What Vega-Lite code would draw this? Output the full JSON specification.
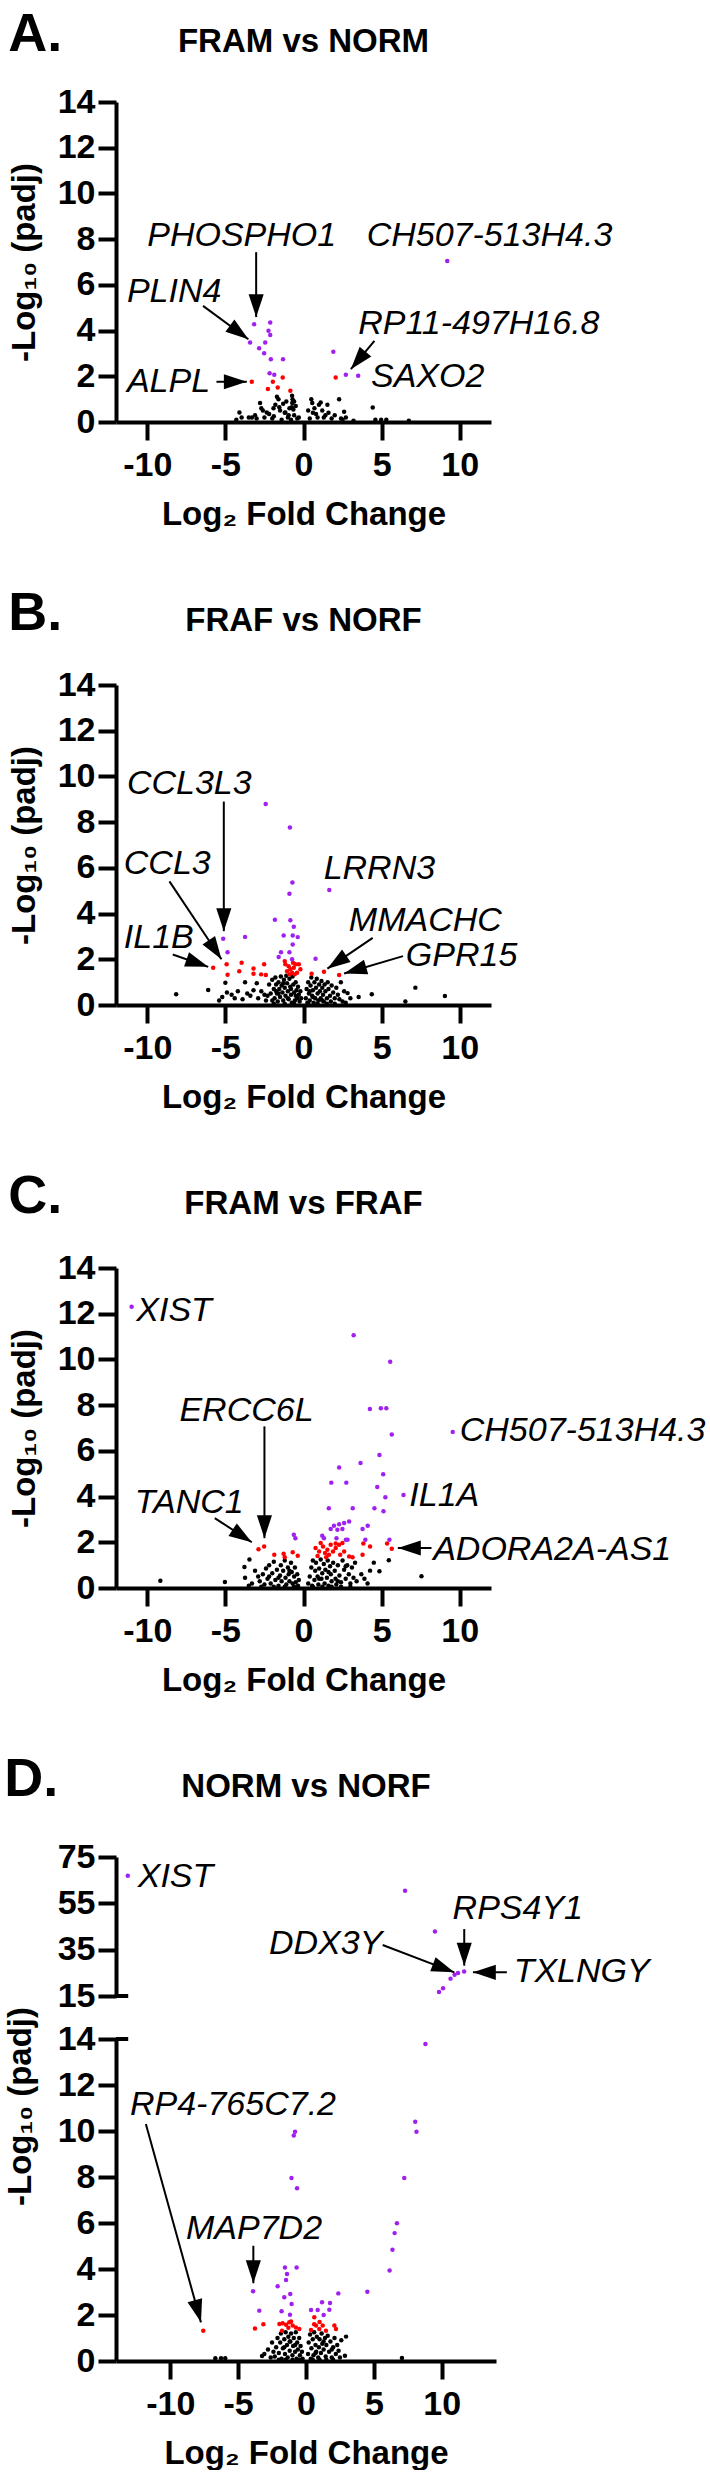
{
"$schema":"https://vega.github.io/schema/vega-lite/v6.json",
"padding":{"top":8,"left":4,"right":0,"bottom":0},
"background":"white",
"spacing":56,
"config":{
 "view":{"stroke":null},
 "font":"Liberation Sans",
 "axis":{"domainColor":"#000","domainWidth":4,"tickColor":"#000","tickWidth":4,"tickSize":18,"grid":false,"labelFont":"Liberation Sans","labelFontSize":34,"labelFontWeight":"bold","labelColor":"#000","labelOverlap":false,"labelBound":false,"titleFont":"Liberation Sans","titleFontSize":33,"titleFontWeight":"bold","titleColor":"#000"},
 "axisX":{"labelPadding":8,"titlePadding":16,"labelFlush":false},
 "axisY":{"labelPadding":3,"titlePadding":16},
 "title":{"font":"Liberation Sans","fontWeight":"bold","color":"#000"}
},
"datasets":{
"A":[
{"x":-4.1,"y":0.42,"c":"n"},{"x":-3.96,"y":0.2,"c":"n"},{"x":-4.3,"y":0.1,"c":"n"},{"x":-3.5,"y":0.2,"c":"n"},{"x":-3.3,"y":0.2,"c":"n"},{"x":-3.0,"y":0.15,"c":"n"},{"x":-2.78,"y":0.83,"c":"n"},{"x":-2.7,"y":0.6,"c":"n"},{"x":-2.35,"y":0.42,"c":"n"},{"x":-2.5,"y":0.2,"c":"n"},{"x":-2.2,"y":0.35,"c":"n"},{"x":-1.92,"y":0.6,"c":"n"},{"x":-1.7,"y":1.1,"c":"n"},{"x":-1.6,"y":1.0,"c":"n"},{"x":-1.8,"y":0.75,"c":"n"},{"x":-1.5,"y":0.5,"c":"n"},{"x":-1.3,"y":0.8,"c":"n"},{"x":-1.2,"y":0.4,"c":"n"},{"x":-1.16,"y":0.42,"c":"n"},{"x":-1.0,"y":0.2,"c":"n"},{"x":-0.9,"y":0.6,"c":"n"},{"x":-0.73,"y":1.15,"c":"n"},{"x":-0.7,"y":1.0,"c":"n"},{"x":-0.72,"y":0.83,"c":"n"},{"x":-0.65,"y":0.55,"c":"n"},{"x":-0.6,"y":0.3,"c":"n"},{"x":-0.4,"y":0.15,"c":"n"},{"x":-0.3,"y":0.2,"c":"n"},{"x":-0.5,"y":0.7,"c":"n"},{"x":-2.0,"y":0.15,"c":"n"},{"x":-1.4,"y":0.1,"c":"n"},{"x":-0.8,"y":0.1,"c":"n"},{"x":-2.6,"y":0.5,"c":"n"},{"x":-3.1,"y":0.3,"c":"n"},{"x":-1.9,"y":0.25,"c":"n"},{"x":-1.55,"y":0.65,"c":"n"},{"x":-1.1,"y":0.9,"c":"n"},{"x":-0.95,"y":0.3,"c":"n"},{"x":-0.6,"y":0.9,"c":"n"},{"x":-0.75,"y":0.65,"c":"n"},{"x":0.4,"y":0.15,"c":"n"},{"x":0.56,"y":0.83,"c":"n"},{"x":0.7,"y":0.6,"c":"n"},{"x":0.8,"y":0.35,"c":"n"},{"x":0.99,"y":0.75,"c":"n"},{"x":1.1,"y":0.85,"c":"n"},{"x":1.2,"y":0.5,"c":"n"},{"x":1.3,"y":0.2,"c":"n"},{"x":1.53,"y":0.75,"c":"n"},{"x":1.6,"y":0.4,"c":"n"},{"x":1.8,"y":0.15,"c":"n"},{"x":2.0,"y":0.3,"c":"n"},{"x":2.28,"y":1.0,"c":"n"},{"x":2.5,"y":0.1,"c":"n"},{"x":2.71,"y":0.2,"c":"n"},{"x":2.6,"y":0.45,"c":"n"},{"x":2.4,"y":0.15,"c":"n"},{"x":0.6,"y":0.4,"c":"n"},{"x":0.9,"y":0.2,"c":"n"},{"x":1.4,"y":0.3,"c":"n"},{"x":4.43,"y":0.63,"c":"n"},{"x":4.6,"y":0.1,"c":"n"},{"x":4.97,"y":0.1,"c":"n"},{"x":5.3,"y":0.1,"c":"n"},{"x":6.74,"y":0.05,"c":"n"},{"x":3.2,"y":0.05,"c":"n"},{"x":0.3,"y":0.5,"c":"n"},{"x":0.5,"y":1.0,"c":"n"},
{"x":-3.31,"y":1.76,"c":"r"},{"x":-1.96,"y":1.76,"c":"r"},{"x":-2.28,"y":1.44,"c":"r"},{"x":-1.65,"y":1.51,"c":"r"},{"x":-1.33,"y":1.95,"c":"r"},{"x":-0.84,"y":1.37,"c":"r"},{"x":2.06,"y":1.95,"c":"r"},
{"x":-3.16,"y":4.28,"c":"p"},{"x":-2.13,"y":4.35,"c":"p"},{"x":-2.24,"y":3.99,"c":"p"},{"x":-2.13,"y":3.81,"c":"p"},{"x":-3.42,"y":3.48,"c":"p"},{"x":-2.45,"y":3.48,"c":"p"},{"x":-2.84,"y":3.23,"c":"p"},{"x":-2.52,"y":3.01,"c":"p"},{"x":-2.09,"y":2.75,"c":"p"},{"x":-1.31,"y":2.75,"c":"p"},{"x":-2.17,"y":2.13,"c":"p"},{"x":-1.87,"y":2.07,"c":"p"},{"x":1.91,"y":3.07,"c":"p"},{"x":2.71,"y":2.07,"c":"p"},{"x":3.5,"y":2.02,"c":"p"},{"x":9.2,"y":7.04,"c":"p"}
],
"Aa":[{"x2":-3.03,"y2":7.43,"x":-3.03,"y":4.59},{"x2":-6.43,"y2":5.08,"x":-3.53,"y":3.62},{"x2":4.54,"y2":3.55,"x":3.03,"y":2.31},{"x2":-5.57,"y2":1.76,"x":-3.63,"y":1.76}],
"Al":[{"t":"PHOSPHO1","x":-10.0,"y":7.69},{"t":"CH507-513H4.3","x":4.04,"y":7.69},{"t":"PLIN4","x":-11.3,"y":5.24},{"t":"RP11-497H16.8","x":3.5,"y":3.84},{"t":"SAXO2","x":4.32,"y":1.53},{"t":"ALPL","x":-11.3,"y":1.31}],
"B":[
{"x":-8.15,"y":0.47,"c":"n"},{"x":-6.1,"y":0.66,"c":"n"},{"x":-5.4,"y":0.2,"c":"n"},{"x":-5.2,"y":0.35,"c":"n"},{"x":-5.0,"y":0.97,"c":"n"},{"x":-4.9,"y":0.55,"c":"n"},{"x":-4.6,"y":0.45,"c":"n"},{"x":-4.4,"y":0.3,"c":"n"},{"x":-4.2,"y":0.6,"c":"n"},{"x":-3.74,"y":1.0,"c":"n"},{"x":-3.9,"y":0.25,"c":"n"},{"x":-3.6,"y":0.5,"c":"n"},{"x":-3.4,"y":0.4,"c":"n"},{"x":-3.2,"y":0.65,"c":"n"},{"x":-2.99,"y":0.95,"c":"n"},{"x":-2.9,"y":0.3,"c":"n"},{"x":-2.7,"y":0.6,"c":"n"},{"x":-2.5,"y":0.45,"c":"n"},{"x":-2.4,"y":0.2,"c":"n"},{"x":2.39,"y":1.0,"c":"n"},{"x":2.6,"y":0.6,"c":"n"},{"x":2.82,"y":0.52,"c":"n"},{"x":3.0,"y":0.3,"c":"n"},{"x":3.53,"y":0.35,"c":"n"},{"x":4.37,"y":0.47,"c":"n"},{"x":6.52,"y":0.15,"c":"n"},{"x":7.16,"y":0.76,"c":"n"},{"x":9.05,"y":0.39,"c":"n"},{"x":2.3,"y":0.25,"c":"n"},{"x":2.5,"y":0.15,"c":"n"},{"x":2.7,"y":0.1,"c":"n"},
{"x":-2.2,"y":0.9,"c":"n"},{"x":-2.1,"y":0.5,"c":"n"},{"x":-2.0,"y":1.1,"c":"n"},{"x":-2.0,"y":0.2,"c":"n"},{"x":-1.9,"y":0.7,"c":"n"},{"x":-1.85,"y":0.3,"c":"n"},{"x":-1.8,"y":1.2,"c":"n"},{"x":-1.75,"y":0.9,"c":"n"},{"x":-1.7,"y":0.5,"c":"n"},{"x":-1.65,"y":0.15,"c":"n"},{"x":-1.6,"y":1.0,"c":"n"},{"x":-1.55,"y":0.7,"c":"n"},{"x":-1.5,"y":0.35,"c":"n"},{"x":-1.45,"y":1.25,"c":"n"},{"x":-1.4,"y":0.85,"c":"n"},{"x":-1.35,"y":0.55,"c":"n"},{"x":-1.3,"y":0.2,"c":"n"},{"x":-1.25,"y":1.1,"c":"n"},{"x":-1.2,"y":0.75,"c":"n"},{"x":-1.15,"y":0.4,"c":"n"},{"x":-1.1,"y":1.28,"c":"n"},{"x":-1.05,"y":0.95,"c":"n"},{"x":-1.0,"y":0.6,"c":"n"},{"x":-0.95,"y":0.25,"c":"n"},{"x":-0.9,"y":1.15,"c":"n"},{"x":-0.85,"y":0.8,"c":"n"},{"x":-0.8,"y":0.45,"c":"n"},{"x":-0.75,"y":0.1,"c":"n"},{"x":-0.7,"y":1.25,"c":"n"},{"x":-0.65,"y":0.9,"c":"n"},{"x":-0.6,"y":0.55,"c":"n"},{"x":-0.55,"y":0.2,"c":"n"},{"x":-0.5,"y":1.0,"c":"n"},{"x":-0.45,"y":0.65,"c":"n"},{"x":-0.4,"y":0.3,"c":"n"},{"x":-0.35,"y":0.8,"c":"n"},{"x":-0.3,"y":0.45,"c":"n"},{"x":-0.25,"y":0.15,"c":"n"},{"x":-0.2,"y":0.6,"c":"n"},{"x":-0.15,"y":0.3,"c":"n"},{"x":-1.9,"y":0.05,"c":"n"},{"x":-1.2,"y":0.05,"c":"n"},{"x":-0.6,"y":0.05,"c":"n"},{"x":-1.6,"y":0.5,"c":"n"},{"x":-1.0,"y":0.3,"c":"n"},{"x":-0.8,"y":0.7,"c":"n"},{"x":-1.3,"y":0.95,"c":"n"},{"x":-0.5,"y":0.4,"c":"n"},{"x":-1.75,"y":0.6,"c":"n"},{"x":-2.3,"y":0.4,"c":"n"},
{"x":0.15,"y":0.3,"c":"n"},{"x":0.2,"y":0.7,"c":"n"},{"x":0.25,"y":0.1,"c":"n"},{"x":0.3,"y":1.0,"c":"n"},{"x":0.35,"y":0.5,"c":"n"},{"x":0.4,"y":0.2,"c":"n"},{"x":0.45,"y":0.85,"c":"n"},{"x":0.5,"y":1.2,"c":"n"},{"x":0.55,"y":0.4,"c":"n"},{"x":0.6,"y":0.65,"c":"n"},{"x":0.65,"y":0.1,"c":"n"},{"x":0.7,"y":1.0,"c":"n"},{"x":0.75,"y":0.3,"c":"n"},{"x":0.8,"y":0.75,"c":"n"},{"x":0.85,"y":1.15,"c":"n"},{"x":0.9,"y":0.5,"c":"n"},{"x":0.95,"y":0.2,"c":"n"},{"x":1.0,"y":0.9,"c":"n"},{"x":1.05,"y":0.6,"c":"n"},{"x":1.1,"y":0.3,"c":"n"},{"x":1.15,"y":1.05,"c":"n"},{"x":1.2,"y":0.75,"c":"n"},{"x":1.25,"y":0.45,"c":"n"},{"x":1.3,"y":0.15,"c":"n"},{"x":1.35,"y":0.9,"c":"n"},{"x":1.4,"y":0.6,"c":"n"},{"x":1.5,"y":0.3,"c":"n"},{"x":1.55,"y":1.0,"c":"n"},{"x":1.6,"y":0.7,"c":"n"},{"x":1.7,"y":0.4,"c":"n"},{"x":1.75,"y":0.15,"c":"n"},{"x":1.8,"y":0.85,"c":"n"},{"x":1.9,"y":0.55,"c":"n"},{"x":2.0,"y":0.3,"c":"n"},{"x":2.1,"y":0.75,"c":"n"},{"x":2.2,"y":0.45,"c":"n"},{"x":0.3,"y":0.05,"c":"n"},{"x":0.9,"y":0.05,"c":"n"},{"x":1.5,"y":0.05,"c":"n"},{"x":2.0,"y":0.05,"c":"n"},{"x":0.6,"y":0.35,"c":"n"},{"x":1.2,"y":0.2,"c":"n"},{"x":0.4,"y":0.6,"c":"n"},
{"x":-5.78,"y":1.63,"c":"r"},{"x":-4.92,"y":1.78,"c":"r"},{"x":-4.86,"y":1.32,"c":"r"},{"x":-3.96,"y":1.85,"c":"r"},{"x":-4.11,"y":1.48,"c":"r"},{"x":-3.2,"y":1.6,"c":"r"},{"x":-3.2,"y":1.37,"c":"r"},{"x":-2.52,"y":1.78,"c":"r"},{"x":-2.71,"y":1.34,"c":"r"},{"x":-2.41,"y":1.31,"c":"r"},{"x":-1.2,"y":1.92,"c":"r"},{"x":-1.16,"y":1.78,"c":"r"},{"x":-0.95,"y":1.7,"c":"r"},{"x":-0.84,"y":1.56,"c":"r"},{"x":-0.73,"y":1.41,"c":"r"},{"x":-0.62,"y":1.63,"c":"r"},{"x":-0.52,"y":1.78,"c":"r"},{"x":-0.3,"y":1.78,"c":"r"},{"x":-0.2,"y":1.56,"c":"r"},{"x":-1.05,"y":1.48,"c":"r"},{"x":-0.9,"y":1.34,"c":"r"},{"x":-0.56,"y":1.34,"c":"r"},{"x":-0.41,"y":1.41,"c":"r"},{"x":-0.67,"y":1.85,"c":"r"},{"x":0.52,"y":1.37,"c":"r"},{"x":1.31,"y":1.45,"c":"r"},{"x":2.28,"y":1.31,"c":"r"},
{"x":-2.42,"y":8.79,"c":"p"},{"x":-0.87,"y":7.77,"c":"p"},{"x":-0.71,"y":5.36,"c":"p"},{"x":-0.9,"y":4.87,"c":"p"},{"x":1.65,"y":5.03,"c":"p"},{"x":-1.83,"y":3.73,"c":"p"},{"x":-0.84,"y":3.71,"c":"p"},{"x":-0.62,"y":3.42,"c":"p"},{"x":-1.27,"y":3.04,"c":"p"},{"x":-0.69,"y":3.04,"c":"p"},{"x":-0.37,"y":2.97,"c":"p"},{"x":-3.74,"y":2.98,"c":"p"},{"x":-5.14,"y":2.9,"c":"p"},{"x":-0.69,"y":2.65,"c":"p"},{"x":-4.86,"y":2.31,"c":"p"},{"x":-1.44,"y":2.31,"c":"p"},{"x":-0.9,"y":2.31,"c":"p"},{"x":-1.59,"y":2.1,"c":"p"},{"x":-0.73,"y":2.0,"c":"p"},{"x":0.77,"y":2.02,"c":"p"}
],
"Ba":[{"x2":-5.1,"y2":8.9,"x":-5.1,"y":3.23},{"x2":-8.58,"y2":5.41,"x":-5.25,"y":2.0},{"x2":-8.37,"y2":2.21,"x":-6.1,"y":1.67},{"x2":4.43,"y2":2.94,"x":1.53,"y":1.59},{"x2":6.37,"y2":2.14,"x":2.6,"y":1.38}],
"Bl":[{"t":"CCL3L3","x":-11.3,"y":9.21},{"t":"CCL3","x":-11.5,"y":5.72},{"t":"IL1B","x":-11.5,"y":2.49},{"t":"LRRN3","x":1.29,"y":5.5},{"t":"MMACHC","x":2.9,"y":3.23},{"t":"GPR15","x":6.55,"y":1.7}],
"C":[
{"x":-9.16,"y":0.32,"c":"n"},{"x":-5.03,"y":0.26,"c":"n"},{"x":7.55,"y":0.51,"c":"n"},{"x":-3.46,"y":1.25,"c":"n"},{"x":-3.78,"y":0.92,"c":"n"},{"x":-3.74,"y":0.45,"c":"n"},{"x":5.46,"y":1.21,"c":"n"},{"x":4.86,"y":0.73,"c":"n"},{"x":4.26,"y":0.76,"c":"n"},{"x":4.5,"y":1.11,"c":"n"},{"x":3.9,"y":0.4,"c":"n"},{"x":4.1,"y":0.2,"c":"n"},{"x":3.7,"y":0.6,"c":"n"},{"x":-3.3,"y":0.2,"c":"n"},{"x":-3.5,"y":0.1,"c":"n"},{"x":-2.9,"y":0.5,"c":"n"},{"x":-3.1,"y":0.75,"c":"n"},
{"x":-2.8,"y":0.3,"c":"n"},{"x":-2.6,"y":0.6,"c":"n"},{"x":-2.5,"y":0.15,"c":"n"},{"x":-2.4,"y":0.85,"c":"n"},{"x":-2.3,"y":0.4,"c":"n"},{"x":-2.2,"y":1.0,"c":"n"},{"x":-2.1,"y":0.2,"c":"n"},{"x":-2.0,"y":0.65,"c":"n"},{"x":-1.9,"y":1.15,"c":"n"},{"x":-1.8,"y":0.35,"c":"n"},{"x":-1.7,"y":0.8,"c":"n"},{"x":-1.6,"y":0.1,"c":"n"},{"x":-1.5,"y":0.55,"c":"n"},{"x":-1.45,"y":1.0,"c":"n"},{"x":-1.4,"y":0.3,"c":"n"},{"x":-1.3,"y":0.75,"c":"n"},{"x":-1.2,"y":1.2,"c":"n"},{"x":-1.15,"y":0.45,"c":"n"},{"x":-1.1,"y":0.15,"c":"n"},{"x":-1.0,"y":0.9,"c":"n"},{"x":-0.95,"y":0.6,"c":"n"},{"x":-0.9,"y":0.3,"c":"n"},{"x":-0.8,"y":1.1,"c":"n"},{"x":-0.75,"y":0.7,"c":"n"},{"x":-0.7,"y":0.2,"c":"n"},{"x":-0.6,"y":0.5,"c":"n"},{"x":-0.55,"y":0.9,"c":"n"},{"x":-0.5,"y":0.25,"c":"n"},{"x":-0.4,"y":0.6,"c":"n"},{"x":-0.35,"y":0.1,"c":"n"},{"x":-0.3,"y":0.35,"c":"n"},{"x":-2.7,"y":0.05,"c":"n"},{"x":-1.9,"y":0.05,"c":"n"},{"x":-1.2,"y":0.05,"c":"n"},{"x":-0.6,"y":0.05,"c":"n"},{"x":-1.6,"y":0.45,"c":"n"},{"x":-2.2,"y":0.5,"c":"n"},{"x":-0.9,"y":0.75,"c":"n"},
{"x":0.3,"y":0.2,"c":"n"},{"x":0.4,"y":0.5,"c":"n"},{"x":0.5,"y":0.9,"c":"n"},{"x":0.55,"y":0.1,"c":"n"},{"x":0.6,"y":1.2,"c":"n"},{"x":0.7,"y":0.35,"c":"n"},{"x":0.75,"y":0.75,"c":"n"},{"x":0.8,"y":1.1,"c":"n"},{"x":0.9,"y":0.5,"c":"n"},{"x":0.95,"y":0.15,"c":"n"},{"x":1.0,"y":0.85,"c":"n"},{"x":1.1,"y":1.25,"c":"n"},{"x":1.15,"y":0.4,"c":"n"},{"x":1.2,"y":0.65,"c":"n"},{"x":1.3,"y":1.05,"c":"n"},{"x":1.35,"y":0.2,"c":"n"},{"x":1.4,"y":0.8,"c":"n"},{"x":1.5,"y":0.45,"c":"n"},{"x":1.55,"y":1.2,"c":"n"},{"x":1.6,"y":0.1,"c":"n"},{"x":1.7,"y":0.95,"c":"n"},{"x":1.75,"y":0.6,"c":"n"},{"x":1.8,"y":0.3,"c":"n"},{"x":1.9,"y":1.1,"c":"n"},{"x":2.0,"y":0.75,"c":"n"},{"x":2.05,"y":0.4,"c":"n"},{"x":2.1,"y":0.15,"c":"n"},{"x":2.2,"y":1.0,"c":"n"},{"x":2.3,"y":0.55,"c":"n"},{"x":2.4,"y":0.25,"c":"n"},{"x":2.5,"y":1.2,"c":"n"},{"x":2.6,"y":0.8,"c":"n"},{"x":2.7,"y":0.4,"c":"n"},{"x":2.8,"y":1.0,"c":"n"},{"x":2.9,"y":0.6,"c":"n"},{"x":3.0,"y":0.2,"c":"n"},{"x":3.1,"y":0.9,"c":"n"},{"x":3.2,"y":0.45,"c":"n"},{"x":3.3,"y":1.1,"c":"n"},{"x":3.4,"y":0.3,"c":"n"},{"x":0.6,"y":0.05,"c":"n"},{"x":1.2,"y":0.05,"c":"n"},{"x":1.8,"y":0.05,"c":"n"},{"x":2.4,"y":0.05,"c":"n"},{"x":3.0,"y":0.05,"c":"n"},{"x":1.0,"y":0.4,"c":"n"},{"x":1.6,"y":0.7,"c":"n"},{"x":2.2,"y":0.3,"c":"n"},{"x":2.7,"y":0.95,"c":"n"},
{"x":-2.88,"y":1.7,"c":"r"},{"x":-2.52,"y":1.82,"c":"r"},{"x":-1.87,"y":1.45,"c":"r"},{"x":-1.27,"y":1.5,"c":"r"},{"x":-1.2,"y":1.35,"c":"r"},{"x":-0.69,"y":1.56,"c":"r"},{"x":-0.37,"y":1.41,"c":"r"},{"x":0.77,"y":1.75,"c":"r"},{"x":1.0,"y":1.6,"c":"r"},{"x":1.1,"y":1.97,"c":"r"},{"x":1.25,"y":1.82,"c":"r"},{"x":1.38,"y":1.53,"c":"r"},{"x":1.53,"y":1.67,"c":"r"},{"x":1.74,"y":1.89,"c":"r"},{"x":1.89,"y":1.6,"c":"r"},{"x":2.06,"y":1.75,"c":"r"},{"x":2.28,"y":1.89,"c":"r"},{"x":2.49,"y":1.97,"c":"r"},{"x":2.6,"y":1.6,"c":"r"},{"x":1.63,"y":1.45,"c":"r"},{"x":2.92,"y":1.38,"c":"r"},{"x":3.14,"y":1.35,"c":"r"},{"x":2.06,"y":1.95,"c":"r"},{"x":0.9,"y":1.4,"c":"r"},{"x":1.45,"y":1.35,"c":"r"},{"x":2.35,"y":1.45,"c":"r"},{"x":3.78,"y":1.45,"c":"r"},{"x":3.83,"y":1.95,"c":"r"},{"x":4.26,"y":1.82,"c":"r"},{"x":5.35,"y":1.95,"c":"r"},{"x":5.65,"y":1.72,"c":"r"},
{"x":-11.0,"y":12.3,"c":"p"},{"x":3.21,"y":11.06,"c":"p"},{"x":5.55,"y":9.9,"c":"p"},{"x":4.25,"y":7.83,"c":"p"},{"x":4.95,"y":7.86,"c":"p"},{"x":5.3,"y":7.86,"c":"p"},{"x":5.65,"y":6.72,"c":"p"},{"x":9.55,"y":6.83,"c":"p"},{"x":3.65,"y":5.47,"c":"p"},{"x":4.86,"y":5.82,"c":"p"},{"x":2.28,"y":5.27,"c":"p"},{"x":1.78,"y":4.61,"c":"p"},{"x":2.74,"y":4.61,"c":"p"},{"x":5.1,"y":4.98,"c":"p"},{"x":4.72,"y":4.42,"c":"p"},{"x":5.24,"y":3.97,"c":"p"},{"x":6.4,"y":4.07,"c":"p"},{"x":1.62,"y":3.49,"c":"p"},{"x":3.15,"y":3.49,"c":"p"},{"x":4.54,"y":3.49,"c":"p"},{"x":5.12,"y":3.36,"c":"p"},{"x":1.74,"y":2.58,"c":"p"},{"x":1.95,"y":2.72,"c":"p"},{"x":2.28,"y":2.79,"c":"p"},{"x":2.6,"y":2.84,"c":"p"},{"x":2.92,"y":2.91,"c":"p"},{"x":2.17,"y":2.55,"c":"p"},{"x":2.49,"y":2.58,"c":"p"},{"x":3.78,"y":2.58,"c":"p"},{"x":4.11,"y":2.72,"c":"p"},{"x":-0.62,"y":2.33,"c":"p"},{"x":-0.52,"y":2.18,"c":"p"},{"x":1.2,"y":2.29,"c":"p"},{"x":1.31,"y":2.18,"c":"p"},{"x":2.11,"y":2.18,"c":"p"},{"x":2.71,"y":2.11,"c":"p"},{"x":2.82,"y":2.11,"c":"p"},{"x":3.96,"y":2.11,"c":"p"},{"x":5.5,"y":2.11,"c":"p"}
],
"Ca":[{"x2":-2.5,"y2":7.07,"x":-2.5,"y":2.18},{"x2":-5.68,"y2":3.06,"x":-3.31,"y":2.0},{"x2":8.19,"y2":1.75,"x":6.04,"y":1.75}],
"Cl":[{"t":"XIST","x":-10.7,"y":11.7},{"t":"ERCC6L","x":-7.94,"y":7.29},{"t":"TANC1","x":-10.8,"y":3.28},{"t":"CH507-513H4.3","x":10.0,"y":6.42},{"t":"IL1A","x":6.77,"y":3.6},{"t":"ADORA2A-AS1","x":8.3,"y":1.21}],
"Du":[{"x":-13.13,"y":66.9,"c":"p"},{"x":7.3,"y":60.4,"c":"p"},{"x":9.5,"y":42.8,"c":"p"},{"x":11.65,"y":25.6,"c":"p"},{"x":11.2,"y":24.9,"c":"p"},{"x":10.95,"y":24.2,"c":"p"},{"x":10.65,"y":22.5,"c":"p"},{"x":10.1,"y":18.3,"c":"p"},{"x":9.8,"y":16.7,"c":"p"}],
"Dua":[{"x2":11.66,"y2":43.9,"x":11.66,"y":28.1},{"x2":5.65,"y2":37.0,"x":10.93,"y":25.2},{"x2":14.8,"y2":25.2,"x":12.3,"y":25.2}],
"Dul":[{"t":"XIST","x":-12.4,"y":62.2},{"t":"RPS4Y1","x":10.8,"y":48.2},{"t":"DDX3Y","x":-2.73,"y":33.1},{"t":"TXLNGY","x":15.3,"y":20.9}],
"Dl":[
{"x":-6.68,"y":0.12,"c":"n"},{"x":-6.26,"y":0.12,"c":"n"},{"x":-5.95,"y":0.12,"c":"n"},{"x":7.07,"y":0.13,"c":"n"},{"x":2.87,"y":0.23,"c":"n"},{"x":-3.24,"y":0.22,"c":"n"},{"x":-3.07,"y":0.3,"c":"n"},{"x":2.95,"y":1.06,"c":"n"},{"x":-2.8,"y":0.5,"c":"n"},{"x":-2.5,"y":0.8,"c":"n"},{"x":2.6,"y":0.9,"c":"n"},
{"x":-2.3,"y":0.2,"c":"n"},{"x":-2.2,"y":0.6,"c":"n"},{"x":-2.1,"y":1.0,"c":"n"},{"x":-2.0,"y":0.35,"c":"n"},{"x":-1.9,"y":0.8,"c":"n"},{"x":-1.85,"y":1.2,"c":"n"},{"x":-1.8,"y":0.1,"c":"n"},{"x":-1.7,"y":0.55,"c":"n"},{"x":-1.6,"y":0.95,"c":"n"},{"x":-1.55,"y":0.3,"c":"n"},{"x":-1.5,"y":1.25,"c":"n"},{"x":-1.4,"y":0.7,"c":"n"},{"x":-1.35,"y":0.15,"c":"n"},{"x":-1.3,"y":1.05,"c":"n"},{"x":-1.2,"y":0.45,"c":"n"},{"x":-1.15,"y":0.85,"c":"n"},{"x":-1.1,"y":1.2,"c":"n"},{"x":-1.0,"y":0.25,"c":"n"},{"x":-0.95,"y":0.65,"c":"n"},{"x":-0.9,"y":1.0,"c":"n"},{"x":-0.8,"y":0.4,"c":"n"},{"x":-0.75,"y":1.25,"c":"n"},{"x":-0.7,"y":0.1,"c":"n"},{"x":-0.65,"y":0.8,"c":"n"},{"x":-0.6,"y":0.5,"c":"n"},{"x":-0.5,"y":1.0,"c":"n"},{"x":-0.45,"y":0.25,"c":"n"},{"x":-0.4,"y":0.65,"c":"n"},{"x":-0.3,"y":0.4,"c":"n"},{"x":-0.25,"y":0.1,"c":"n"},{"x":-2.0,"y":0.05,"c":"n"},{"x":-1.5,"y":0.05,"c":"n"},{"x":-1.0,"y":0.05,"c":"n"},{"x":-0.5,"y":0.05,"c":"n"},{"x":-1.6,"y":0.6,"c":"n"},{"x":-1.2,"y":0.85,"c":"n"},{"x":-0.8,"y":0.7,"c":"n"},{"x":-2.4,"y":0.4,"c":"n"},{"x":-2.6,"y":0.15,"c":"n"},
{"x":0.15,"y":0.3,"c":"n"},{"x":0.2,"y":0.8,"c":"n"},{"x":0.3,"y":1.15,"c":"n"},{"x":0.35,"y":0.1,"c":"n"},{"x":0.4,"y":0.55,"c":"n"},{"x":0.5,"y":0.95,"c":"n"},{"x":0.55,"y":0.25,"c":"n"},{"x":0.6,"y":1.25,"c":"n"},{"x":0.7,"y":0.7,"c":"n"},{"x":0.75,"y":0.4,"c":"n"},{"x":0.8,"y":1.05,"c":"n"},{"x":0.9,"y":0.15,"c":"n"},{"x":0.95,"y":0.6,"c":"n"},{"x":1.0,"y":0.95,"c":"n"},{"x":1.1,"y":0.35,"c":"n"},{"x":1.15,"y":1.2,"c":"n"},{"x":1.2,"y":0.75,"c":"n"},{"x":1.3,"y":0.5,"c":"n"},{"x":1.4,"y":1.0,"c":"n"},{"x":1.45,"y":0.2,"c":"n"},{"x":1.5,"y":0.7,"c":"n"},{"x":1.6,"y":1.1,"c":"n"},{"x":1.7,"y":0.4,"c":"n"},{"x":1.8,"y":0.85,"c":"n"},{"x":1.9,"y":0.15,"c":"n"},{"x":2.0,"y":0.6,"c":"n"},{"x":2.1,"y":1.0,"c":"n"},{"x":2.2,"y":0.3,"c":"n"},{"x":2.3,"y":0.7,"c":"n"},{"x":2.4,"y":0.45,"c":"n"},{"x":2.5,"y":0.15,"c":"n"},{"x":0.5,"y":0.05,"c":"n"},{"x":1.0,"y":0.05,"c":"n"},{"x":1.5,"y":0.05,"c":"n"},{"x":2.0,"y":0.05,"c":"n"},{"x":0.7,"y":0.35,"c":"n"},{"x":1.3,"y":0.85,"c":"n"},{"x":1.9,"y":0.5,"c":"n"},
{"x":-7.57,"y":1.32,"c":"r"},{"x":-3.76,"y":1.41,"c":"r"},{"x":-3.14,"y":1.6,"c":"r"},{"x":-1.96,"y":1.61,"c":"r"},{"x":-1.72,"y":1.64,"c":"r"},{"x":-1.47,"y":1.58,"c":"r"},{"x":-1.23,"y":1.68,"c":"r"},{"x":-0.98,"y":1.54,"c":"r"},{"x":-1.1,"y":1.72,"c":"r"},{"x":-0.74,"y":1.46,"c":"r"},{"x":-0.49,"y":1.39,"c":"r"},{"x":-1.77,"y":1.32,"c":"r"},{"x":-1.3,"y":1.45,"c":"r"},{"x":0.37,"y":1.35,"c":"r"},{"x":0.61,"y":1.9,"c":"r"},{"x":0.74,"y":1.54,"c":"r"},{"x":0.98,"y":1.39,"c":"r"},{"x":1.23,"y":1.54,"c":"r"},{"x":1.47,"y":1.32,"c":"r"},{"x":2.09,"y":1.54,"c":"r"},{"x":2.21,"y":1.39,"c":"r"},{"x":0.6,"y":1.6,"c":"r"},{"x":1.0,"y":1.7,"c":"r"},
{"x":8.8,"y":13.78,"c":"p"},{"x":8.05,"y":10.4,"c":"p"},{"x":8.14,"y":9.97,"c":"p"},{"x":-0.81,"y":9.97,"c":"p"},{"x":-0.9,"y":9.8,"c":"p"},{"x":-1.07,"y":7.96,"c":"p"},{"x":-0.66,"y":7.51,"c":"p"},{"x":7.24,"y":7.96,"c":"p"},{"x":6.7,"y":5.99,"c":"p"},{"x":6.53,"y":5.56,"c":"p"},{"x":6.37,"y":4.84,"c":"p"},{"x":6.16,"y":3.93,"c":"p"},{"x":4.52,"y":3.01,"c":"p"},{"x":2.38,"y":2.94,"c":"p"},{"x":-3.9,"y":3.03,"c":"p"},{"x":-3.44,"y":2.19,"c":"p"},{"x":-1.55,"y":4.07,"c":"p"},{"x":-0.69,"y":4.07,"c":"p"},{"x":-1.4,"y":3.78,"c":"p"},{"x":-1.47,"y":3.52,"c":"p"},{"x":-2.09,"y":3.25,"c":"p"},{"x":-1.6,"y":2.77,"c":"p"},{"x":-1.16,"y":2.91,"c":"p"},{"x":-1.06,"y":2.48,"c":"p"},{"x":-1.8,"y":2.16,"c":"p"},{"x":-1.18,"y":2.01,"c":"p"},{"x":0.37,"y":2.22,"c":"p"},{"x":0.86,"y":2.22,"c":"p"},{"x":1.18,"y":2.55,"c":"p"},{"x":1.77,"y":2.52,"c":"p"},{"x":1.72,"y":2.23,"c":"p"},{"x":1.3,"y":2.0,"c":"p"}
],
"Dla":[{"x2":-11.8,"y2":10.3,"x":-7.74,"y":1.68},{"x2":-3.88,"y2":5.01,"x":-3.88,"y":3.38}],
"Dll":[{"t":"RP4-765C7.2","x":-12.97,"y":10.7},{"t":"MAP7D2","x":-8.84,"y":5.3}],
"Dub":[{"x":-14,"x2":-13.1,"y":15}],
"Dlb":[{"x":-14,"x2":-13.1,"y":14}]
},
"vconcat":[
{"title":{"text":"A.","anchor":"start","frame":"bounds","fontSize":54,"offset":-36},
 "vconcat":[{
 "width":375,"height":320,
 "title":{"text":"FRAM vs NORM","fontSize":33,"offset":26,"anchor":"middle"},
 "encoding":{
  "x":{"field":"x","type":"quantitative","scale":{"domain":[-12,12],"nice":false,"zero":false},"axis":{"values":[-10,-5,0,5,10],"labelExpr":"''+datum.value","title":"Log₂ Fold Change"}},
  "y":{"field":"y","type":"quantitative","scale":{"domain":[0,14],"nice":false,"zero":false},"axis":{"values":[0,2,4,6,8,10,12,14],"title":"-Log₁₀ (padj)"}}
 },
 "layer":[
  {"data":{"name":"A"},"mark":{"type":"point","shape":"circle","filled":true,"size":20,"opacity":1},"encoding":{"color":{"field":"c","type":"nominal","scale":{"domain":["n","r","p"],"range":["#000000","#FF0000","#A020F0"]},"legend":null}}},
  {"data":{"name":"Aa"},"mark":{"type":"rule","strokeWidth":2,"color":"#000"},"encoding":{"x2":{"field":"x2"},"y2":{"field":"y2"}}},
  {"data":{"name":"Aa"},"transform":[{"calculate":"atan2((datum.x-datum.x2)*15.58,(datum.y-datum.y2)*22.86)*180/PI","as":"ang"}],"mark":{"type":"point","shape":"M0,0L-0.33,1L0.33,1Z","filled":true,"size":2100,"color":"#000","opacity":1,"strokeWidth":0},"encoding":{"angle":{"field":"ang","type":"quantitative","scale":null}}},
  {"data":{"name":"Al"},"mark":{"type":"text","font":"Liberation Sans","fontStyle":"italic","fontSize":34,"align":"left","baseline":"alphabetic","color":"#000"},"encoding":{"text":{"field":"t"}}}
 ]}]},
{"title":{"text":"B.","anchor":"start","frame":"bounds","fontSize":54,"offset":-36},
 "vconcat":[{
 "width":375,"height":320,
 "title":{"text":"FRAF vs NORF","fontSize":33,"offset":30,"anchor":"middle"},
 "encoding":{
  "x":{"field":"x","type":"quantitative","scale":{"domain":[-12,12],"nice":false,"zero":false},"axis":{"values":[-10,-5,0,5,10],"labelExpr":"''+datum.value","title":"Log₂ Fold Change"}},
  "y":{"field":"y","type":"quantitative","scale":{"domain":[0,14],"nice":false,"zero":false},"axis":{"values":[0,2,4,6,8,10,12,14],"title":"-Log₁₀ (padj)"}}
 },
 "layer":[
  {"data":{"name":"B"},"mark":{"type":"point","shape":"circle","filled":true,"size":20,"opacity":1},"encoding":{"color":{"field":"c","type":"nominal","scale":{"domain":["n","r","p"],"range":["#000000","#FF0000","#A020F0"]},"legend":null}}},
  {"data":{"name":"Ba"},"mark":{"type":"rule","strokeWidth":2,"color":"#000"},"encoding":{"x2":{"field":"x2"},"y2":{"field":"y2"}}},
  {"data":{"name":"Ba"},"transform":[{"calculate":"atan2((datum.x-datum.x2)*15.58,(datum.y-datum.y2)*22.86)*180/PI","as":"ang"}],"mark":{"type":"point","shape":"M0,0L-0.33,1L0.33,1Z","filled":true,"size":2100,"color":"#000","opacity":1,"strokeWidth":0},"encoding":{"angle":{"field":"ang","type":"quantitative","scale":null}}},
  {"data":{"name":"Bl"},"mark":{"type":"text","font":"Liberation Sans","fontStyle":"italic","fontSize":34,"align":"left","baseline":"alphabetic","color":"#000"},"encoding":{"text":{"field":"t"}}}
 ]}]},
{"title":{"text":"C.","anchor":"start","frame":"bounds","fontSize":54,"offset":-36},
 "vconcat":[{
 "width":375,"height":320,
 "title":{"text":"FRAM vs FRAF","fontSize":33,"offset":30,"anchor":"middle"},
 "encoding":{
  "x":{"field":"x","type":"quantitative","scale":{"domain":[-12,12],"nice":false,"zero":false},"axis":{"values":[-10,-5,0,5,10],"labelExpr":"''+datum.value","title":"Log₂ Fold Change"}},
  "y":{"field":"y","type":"quantitative","scale":{"domain":[0,14],"nice":false,"zero":false},"axis":{"values":[0,2,4,6,8,10,12,14],"title":"-Log₁₀ (padj)"}}
 },
 "layer":[
  {"data":{"name":"C"},"mark":{"type":"point","shape":"circle","filled":true,"size":20,"opacity":1},"encoding":{"color":{"field":"c","type":"nominal","scale":{"domain":["n","r","p"],"range":["#000000","#FF0000","#A020F0"]},"legend":null}}},
  {"data":{"name":"Ca"},"mark":{"type":"rule","strokeWidth":2,"color":"#000"},"encoding":{"x2":{"field":"x2"},"y2":{"field":"y2"}}},
  {"data":{"name":"Ca"},"transform":[{"calculate":"atan2((datum.x-datum.x2)*15.58,(datum.y-datum.y2)*22.86)*180/PI","as":"ang"}],"mark":{"type":"point","shape":"M0,0L-0.33,1L0.33,1Z","filled":true,"size":2100,"color":"#000","opacity":1,"strokeWidth":0},"encoding":{"angle":{"field":"ang","type":"quantitative","scale":null}}},
  {"data":{"name":"Cl"},"mark":{"type":"text","font":"Liberation Sans","fontStyle":"italic","fontSize":34,"align":"left","baseline":"alphabetic","color":"#000"},"encoding":{"text":{"field":"t"}}}
 ]}]},
{"title":{"text":"D.","anchor":"start","frame":"bounds","fontSize":54,"offset":-36},
 "bounds":"flush",
 "spacing":43,
 "vconcat":[
 {
 "width":380,"height":139,
 "title":{"text":"NORM vs NORF","fontSize":33,"offset":36,"anchor":"middle"},
 "encoding":{
  "x":{"field":"x","type":"quantitative","scale":{"domain":[-14,14],"nice":false,"zero":false},"axis":null},
  "y":{"field":"y","type":"quantitative","scale":{"domain":[15,75],"nice":false,"zero":false},"axis":{"values":[15,35,55,75],"title":null}}
 },
 "layer":[
  {"data":{"name":"Dub"},"mark":{"type":"rule","strokeWidth":4,"color":"#000"},"encoding":{"x2":{"field":"x2"}}},
  {"data":{"name":"Du"},"mark":{"type":"point","shape":"circle","filled":true,"size":20,"opacity":1},"encoding":{"color":{"field":"c","type":"nominal","scale":{"domain":["n","r","p"],"range":["#000000","#FF0000","#A020F0"]},"legend":null}}},
  {"data":{"name":"Dua"},"mark":{"type":"rule","strokeWidth":2,"color":"#000"},"encoding":{"x2":{"field":"x2"},"y2":{"field":"y2"}}},
  {"data":{"name":"Dua"},"transform":[{"calculate":"atan2((datum.x-datum.x2)*13.57,(datum.y-datum.y2)*2.317)*180/PI","as":"ang"}],"mark":{"type":"point","shape":"M0,0L-0.33,1L0.33,1Z","filled":true,"size":2100,"color":"#000","opacity":1,"strokeWidth":0},"encoding":{"angle":{"field":"ang","type":"quantitative","scale":null}}},
  {"data":{"name":"Dul"},"mark":{"type":"text","font":"Liberation Sans","fontStyle":"italic","fontSize":34,"align":"left","baseline":"alphabetic","color":"#000"},"encoding":{"text":{"field":"t"}}}
 ]},
 {
 "width":380,"height":322,
 "encoding":{
  "x":{"field":"x","type":"quantitative","scale":{"domain":[-14,14],"nice":false,"zero":false},"axis":{"values":[-10,-5,0,5,10],"labelExpr":"''+datum.value","title":"Log₂ Fold Change"}},
  "y":{"field":"y","type":"quantitative","scale":{"domain":[0,14],"nice":false,"zero":false},"axis":{"values":[0,2,4,6,8,10,12,14],"title":"-Log₁₀ (padj)","titleY":67,"titlePadding":20}}
 },
 "layer":[
  {"data":{"name":"Dlb"},"mark":{"type":"rule","strokeWidth":4,"color":"#000"},"encoding":{"x2":{"field":"x2"}}},
  {"data":{"name":"Dl"},"mark":{"type":"point","shape":"circle","filled":true,"size":20,"opacity":1},"encoding":{"color":{"field":"c","type":"nominal","scale":{"domain":["n","r","p"],"range":["#000000","#FF0000","#A020F0"]},"legend":null}}},
  {"data":{"name":"Dla"},"mark":{"type":"rule","strokeWidth":2,"color":"#000"},"encoding":{"x2":{"field":"x2"},"y2":{"field":"y2"}}},
  {"data":{"name":"Dla"},"transform":[{"calculate":"atan2((datum.x-datum.x2)*13.57,(datum.y-datum.y2)*23.0)*180/PI","as":"ang"}],"mark":{"type":"point","shape":"M0,0L-0.33,1L0.33,1Z","filled":true,"size":2100,"color":"#000","opacity":1,"strokeWidth":0},"encoding":{"angle":{"field":"ang","type":"quantitative","scale":null}}},
  {"data":{"name":"Dll"},"mark":{"type":"text","font":"Liberation Sans","fontStyle":"italic","fontSize":34,"align":"left","baseline":"alphabetic","color":"#000"},"encoding":{"text":{"field":"t"}}}
 ]}
 ]}
]
}
